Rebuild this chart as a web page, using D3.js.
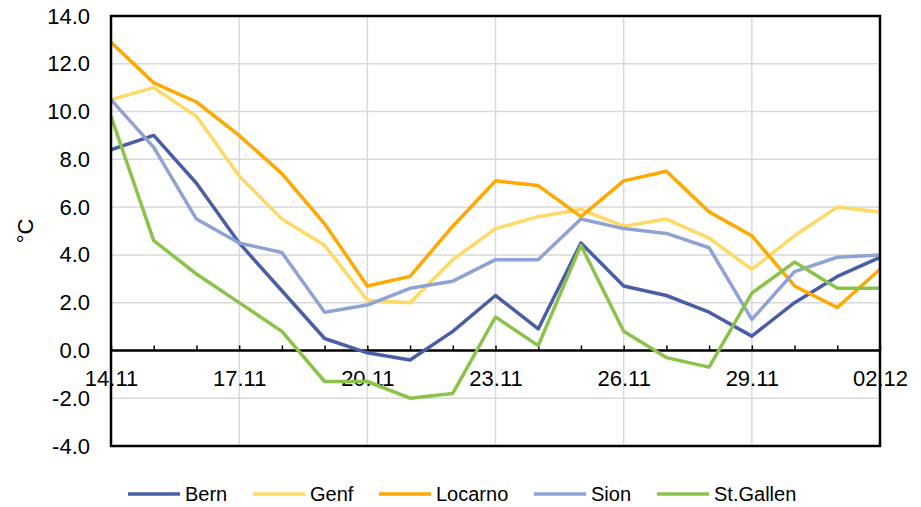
<!DOCTYPE html>
<html><head><meta charset="utf-8">
<script src="https://cdn.jsdelivr.net/npm/d3@7"></script>
<style>body{margin:0;background:#fff;} svg{display:block;font-family:Arial,"Liberation Sans",sans-serif;}</style>
</head><body>
<svg id="c" width="921" height="507"></svg>
<script>
const dates = ["14.11","15.11","16.11","17.11","18.11","19.11","20.11","21.11","22.11","23.11","24.11","25.11","26.11","27.11","28.11","29.11","30.11","01.12","02.12"];
const xTickLabels = ["14.11","17.11","20.11","23.11","26.11","29.11","02.12"];
const yTicks = [-4,-2,0,2,4,6,8,10,12,14];
const bern     = [8.4,9.0,7.0,4.5,2.5,0.5,-0.1,-0.4,0.8,2.3,0.9,4.5,2.7,2.3,1.6,0.6,2.0,3.1,3.9];
const genf     = [10.5,11.0,9.8,7.3,5.5,4.4,2.1,2.0,3.8,5.1,5.6,5.9,5.2,5.5,4.7,3.4,4.8,6.0,5.8];
const locarno  = [12.9,11.2,10.4,9.0,7.4,5.3,2.7,3.1,5.2,7.1,6.9,5.6,7.1,7.5,5.8,4.8,2.7,1.8,3.4];
const sion     = [10.5,8.5,5.5,4.5,4.1,1.6,1.9,2.6,2.9,3.8,3.8,5.5,5.1,4.9,4.3,1.3,3.3,3.9,4.0];
const stgallen = [9.8,4.6,3.2,2.0,0.8,-1.3,-1.3,-2.0,-1.8,1.4,0.2,4.4,0.8,-0.3,-0.7,2.4,3.7,2.6,2.6];
const seriesNames = ["Bern","Genf","Locarno","Sion","St.Gallen"];
const seriesColors = ["#4A5EA8","#FFD966","#FFA800","#8EA3D3","#8BC34A"];
const seriesData = [bern,genf,locarno,sion,stgallen];

const svg = d3.select("#c");
const L=111, R=880, T=16, B=446;
const x = d3.scalePoint().domain(dates).range([L,R]);
const y = d3.scaleLinear().domain([-4,14]).range([B,T]);

// horizontal gridlines
svg.append("g").selectAll("line").data(yTicks).join("line")
  .attr("x1",L).attr("x2",R).attr("y1",d=>y(d)).attr("y2",d=>y(d))
  .attr("stroke","#d9d9d9").attr("stroke-width",1.5);
// vertical gridlines
svg.append("g").selectAll("line").data(xTickLabels.slice(1,-1)).join("line")
  .attr("x1",d=>x(d)).attr("x2",d=>x(d)).attr("y1",T).attr("y2",B)
  .attr("stroke","#d9d9d9").attr("stroke-width",1.5);

// y axis labels
const yAxis = d3.axisLeft(y).tickValues(yTicks).tickFormat(d=>d.toFixed(1)).tickSize(0).tickPadding(21);
const ya = svg.append("g").attr("transform",`translate(${L},0)`).call(yAxis);
ya.select(".domain").remove();
ya.selectAll("text").attr("font-size",22).attr("fill","#000").attr("font-family","Arial,'Liberation Sans',sans-serif");

// x axis at zero
const xAxis = d3.axisBottom(x).tickValues(dates).tickSize(-5).tickFormat(d=>xTickLabels.includes(d)?d:"").tickPadding(20);
const xa = svg.append("g").attr("transform",`translate(0,${y(0)})`).call(xAxis);
xa.select(".domain").attr("stroke","#000").attr("stroke-width",2.5).attr("d",`M${L},0H${R}`);
xa.selectAll(".tick line").attr("stroke","#000").attr("stroke-width",1.5);
xa.selectAll("text").attr("font-size",22).attr("fill","#000").attr("font-family","Arial,'Liberation Sans',sans-serif");

// lines
const line = d3.line().x((d,i)=>x(dates[i])).y(d=>y(d));
seriesData.forEach((s,k)=>{
  svg.append("path").datum(s).attr("d",line).attr("fill","none")
    .attr("stroke",seriesColors[k]).attr("stroke-width",3.5).attr("stroke-linejoin","round");
});

// frame
svg.append("rect").attr("x",L).attr("y",T).attr("width",R-L).attr("height",B-T)
  .attr("fill","none").attr("stroke","#000").attr("stroke-width",2.5);

// y title
svg.append("text").attr("transform","translate(33,231) rotate(-90)").attr("text-anchor","middle")
  .attr("font-size",22).text("°C");

// legend
const legX = [128,253,379,534,657];
const lg = svg.append("g");
seriesNames.forEach((n,k)=>{
  lg.append("line").attr("x1",legX[k]).attr("x2",legX[k]+52).attr("y1",494).attr("y2",494)
    .attr("stroke",seriesColors[k]).attr("stroke-width",3.5);
  lg.append("text").attr("x",legX[k]+57).attr("y",501).attr("font-size",20).text(n);
});
</script>
</body></html>
